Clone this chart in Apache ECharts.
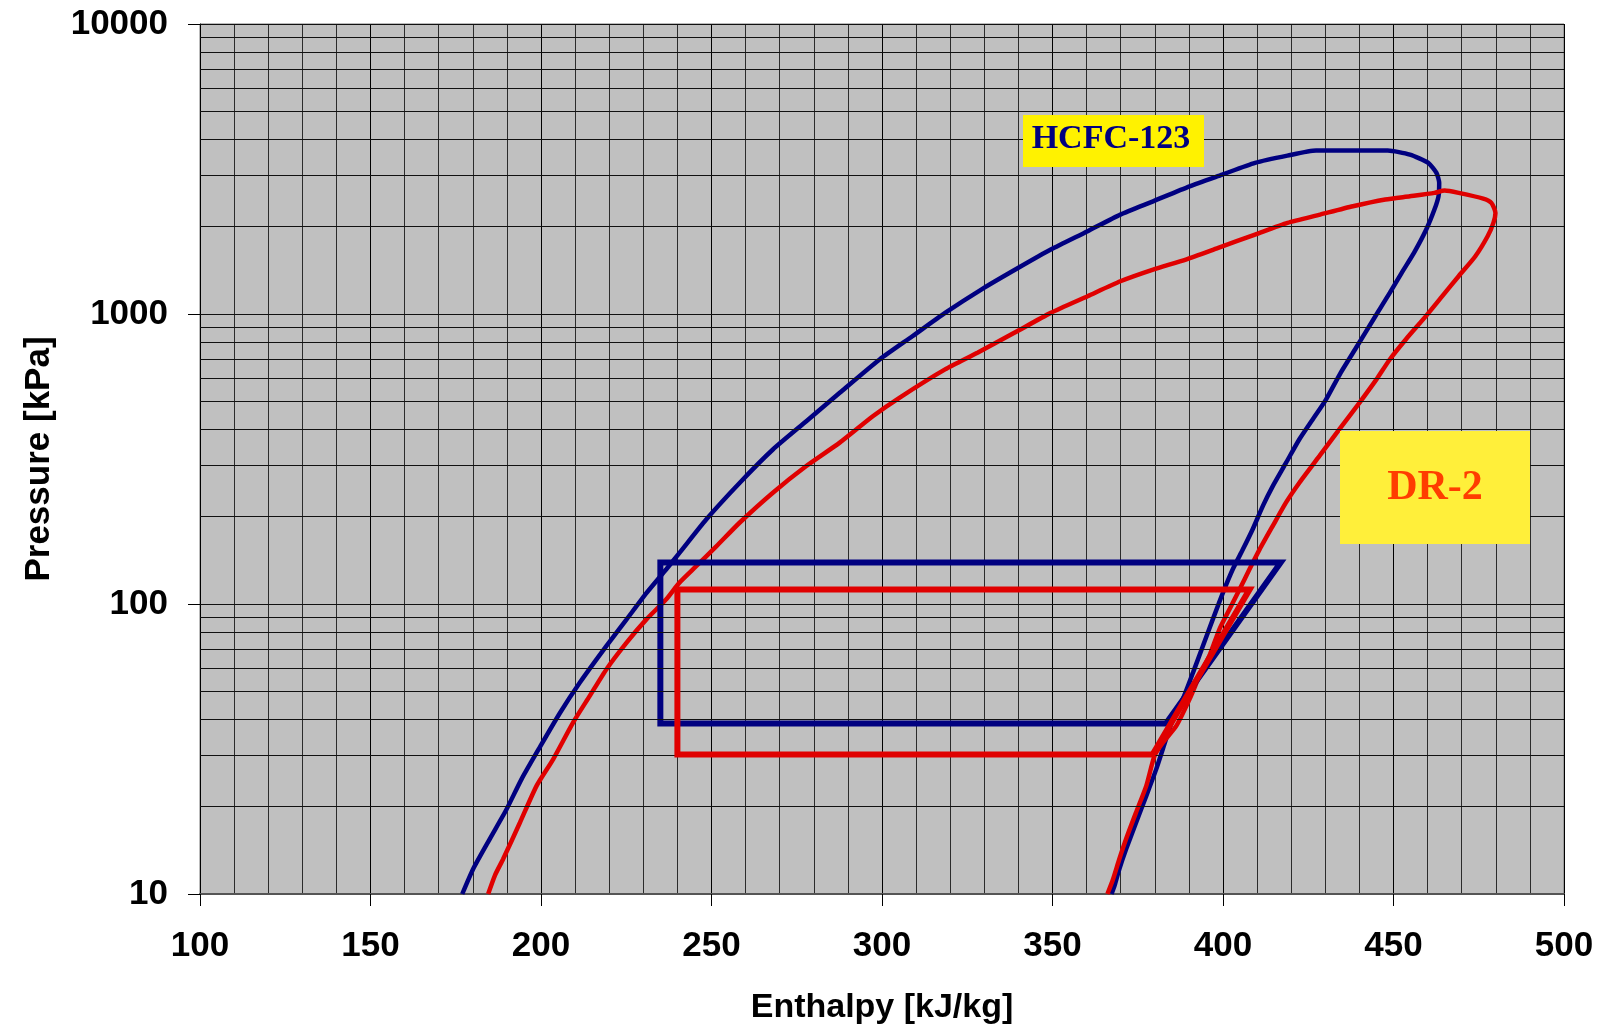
<!DOCTYPE html>
<html>
<head>
<meta charset="utf-8">
<title>P-h diagram HCFC-123 / DR-2</title>
<script src="https://cdn.jsdelivr.net/npm/echarts@6/dist/echarts.min.js"></script>
<style>
  html, body { margin: 0; padding: 0; background: #fff; }
  #chart { width: 1602px; height: 1030px; }
</style>
</head>
<body>
<div id="chart"></div>
<script>
// saturation dome HCFC-123 (enthalpy kJ/kg, pressure kPa)
var hcfcDomeH = [176.9, 180.1, 185.0, 189.9, 194.3, 199.6, 205.5, 211.4, 219.2, 225.1,
  230.9, 236.8, 240.6, 248.5, 258.3, 268.0, 277.8, 287.6, 299.3, 308.9,
  318.5, 329.1, 340.0, 349.5, 360.3, 369.9, 379.5, 390.2, 399.8, 409.4,
  418.9, 427.3, 438.1, 448.3, 454.8, 460.2, 462.6, 463.4, 463.2, 462.0,
  459.6, 456.0, 452.4, 448.9, 444.1, 439.3, 434.5, 430.2, 426.3, 422.4,
  418.5, 414.6, 411.7, 408.7, 405.8, 402.9, 400.0, 397.0, 394.1, 391.2,
  388.2, 385.3, 383.3, 380.4, 377.5, 374.5, 371.6, 369.6, 368.2, 367.3];
var hcfcDomeP = [10, 12.2, 15.5, 19.6, 24.9, 32.0, 42.0, 53.6, 71.7, 88.5,
  109, 132, 150, 196, 262, 341, 427, 535, 697, 838,
  1009, 1214, 1443, 1668, 1929, 2202, 2447, 2756, 3026, 3320,
  3516, 3661, 3661, 3661, 3545, 3320, 3067, 2833, 2546, 2291,
  1956, 1625, 1387, 1183, 957, 774, 627, 507, 433, 370,
  307, 255, 218, 181, 154, 132, 109.5, 88.5, 71.6, 58,
  47, 40.1, 34.2, 26.9, 21.8, 17.6, 14.3, 12.2, 10.7, 10];

// saturation dome DR-2
var dr2DomeH = [184.5, 186.5, 188.9, 193.8, 198.7, 203.6, 209.4, 214.3, 219.2, 225.1,
  230.9, 236.8, 240.6, 245.5, 251.4, 258.3, 268.0, 277.8, 287.6, 297.3,
  305.2, 318.5, 328.0, 338.8, 349.5, 360.3, 369.9, 379.5, 389.1, 398.6,
  409.4, 418.9, 428.5, 438.1, 447.6, 454.8, 462.0, 465.0, 469.1, 476.3,
  478.7, 479.9, 479.3, 477.6, 474.0, 469.1, 464.3, 459.5, 453.6, 448.9,
  445.0, 440.0, 434.1, 428.3, 422.4, 418.5, 414.6, 410.7, 407.8, 404.8,
  401.9, 399.0, 396.0, 393.1, 390.2, 386.3, 382.4, 379.9, 377.5, 374.5,
  371.6, 369.6, 367.7, 366.1];
var dr2DomeP = [10, 11.6, 13.2, 17.6, 23.6, 29.2, 39.0, 48.2, 59.6, 73.6,
  88.5, 104, 118.5, 135, 158, 191, 242, 299, 360, 444,
  515, 644, 735, 861, 1009, 1152, 1297, 1423, 1541, 1691,
  1879, 2062, 2202, 2352, 2481, 2546, 2616, 2665, 2616, 2500,
  2417, 2231, 2062, 1854, 1582, 1350, 1152, 983, 817, 697,
  595, 494, 400, 324, 262, 224, 186, 154, 132, 112,
  95.9, 82.1, 66.2, 56.5, 47, 38.0, 33.3, 29.9, 23.6, 19.1,
  15.5, 13.2, 11.2, 10];

// refrigeration cycles
var hcfcCycleH = [235.0, 383.3, 416.9, 235.0, 235.0];
var hcfcCycleP = [38.7, 38.7, 138.9, 138.9, 38.7];
var dr2CycleH = [240.0, 379.4, 407.8, 240.0, 240.0];
var dr2CycleP = [30.3, 30.3, 112.3, 112.3, 30.3];

// horizontal grid lines on the log pressure axis
var gridPressures = [20, 30, 40, 50, 60, 70, 80, 90, 100,
  200, 300, 400, 500, 600, 700, 800, 900, 1000,
  2000, 3000, 4000, 5000, 6000, 7000, 8000, 9000, 10000];

var sansFont = '"Liberation Sans", Arial, sans-serif';
var serifFont = '"Liberation Serif", "Times New Roman", serif';

function pairs(xs, ys) {
    return xs.map(function (x, i) { return [x, ys[i]]; });
}

var myChart = echarts.init(document.getElementById('chart'));

var option = {
    animation: false,
    grid: {
        left: 200, right: 38, top: 24, bottom: 135,
        show: true, backgroundColor: '#c0c0c0', borderColor: '#777', borderWidth: 1
    },
    xAxis: {
        type: 'value', min: 100, max: 500, interval: 50,
        name: 'Enthalpy [kJ/kg]', nameLocation: 'middle', nameGap: 97,
        nameTextStyle: { fontFamily: sansFont, fontWeight: 'bold', fontSize: 34, color: '#000' },
        axisLine: { lineStyle: { color: '#555', width: 2 } },
        axisTick: { show: true, length: 12, lineStyle: { color: '#000' } },
        axisLabel: { margin: 35, fontFamily: sansFont, fontWeight: 'bold', fontSize: 35, color: '#000' },
        splitLine: { show: true, lineStyle: { color: '#000', width: 1 } },
        minorTick: { show: false, splitNumber: 5 },
        minorSplitLine: { show: true, lineStyle: { color: '#2b2b2b', width: 1 } }
    },
    yAxis: {
        type: 'log', logBase: 10, min: 10, max: 10000, interval: 1,
        name: 'Pressure [kPa]', nameLocation: 'middle', nameGap: 143,
        nameTextStyle: { fontFamily: sansFont, fontWeight: 'bold', fontSize: 35, color: '#000' },
        axisLine: { show: true, lineStyle: { color: '#000', width: 1 } },
        axisTick: { show: true, length: 12, lineStyle: { color: '#000' } },
        axisLabel: {
            margin: 32, fontFamily: sansFont, fontWeight: 'bold', fontSize: 35, color: '#000',
            formatter: function (v) { return String(Math.round(v)); }
        },
        splitLine: { show: false },
        minorTick: { show: false },
        minorSplitLine: { show: false }
    },
    series: [
        {
            type: 'line', data: [], silent: true, z: 1,
            markLine: {
                silent: true, symbol: ['none', 'none'], label: { show: false },
                lineStyle: { color: '#111', width: 1, type: 'solid' },
                emphasis: { disabled: true },
                data: gridPressures.map(function (p) { return { yAxis: p }; })
            }
        },
        {
            name: 'HCFC-123', type: 'line', data: pairs(hcfcDomeH, hcfcDomeP),
            showSymbol: false, smooth: 0.2, z: 3, lineStyle: { color: '#000080', width: 4.5 }
        },
        {
            name: 'DR-2', type: 'line', data: pairs(dr2DomeH, dr2DomeP),
            showSymbol: false, smooth: 0.2, z: 3, lineStyle: { color: '#e00000', width: 4.5 }
        },
        {
            name: 'HCFC-123 cycle', type: 'line', data: pairs(hcfcCycleH, hcfcCycleP),
            showSymbol: false, z: 4, lineStyle: { color: '#000080', width: 6, join: 'miter', cap: 'square' }
        },
        {
            name: 'DR-2 cycle', type: 'line', data: pairs(dr2CycleH, dr2CycleP),
            showSymbol: false, z: 5, lineStyle: { color: '#e00000', width: 6, join: 'miter', cap: 'square' }
        }
    ],
    graphic: [
        { type: 'rect', z: 100, shape: { x: 1023, y: 115, width: 181, height: 52 }, style: { fill: '#fff200' } },
        {
            type: 'text', z: 101, x: 1111, y: 139,
            style: { text: 'HCFC-123', fontFamily: serifFont, fontWeight: 'bold', fontSize: 34,
                     fill: '#000080', align: 'center', verticalAlign: 'middle' }
        },
        { type: 'rect', z: 100, shape: { x: 1340, y: 431, width: 190, height: 113 }, style: { fill: '#ffef3a' } },
        {
            type: 'text', z: 101, x: 1435, y: 488,
            style: { text: 'DR-2', fontFamily: serifFont, fontWeight: 'bold', fontSize: 42,
                     fill: '#ff3d00', align: 'center', verticalAlign: 'middle' }
        }
    ]
};

myChart.setOption(option);
</script>
</body>
</html>
